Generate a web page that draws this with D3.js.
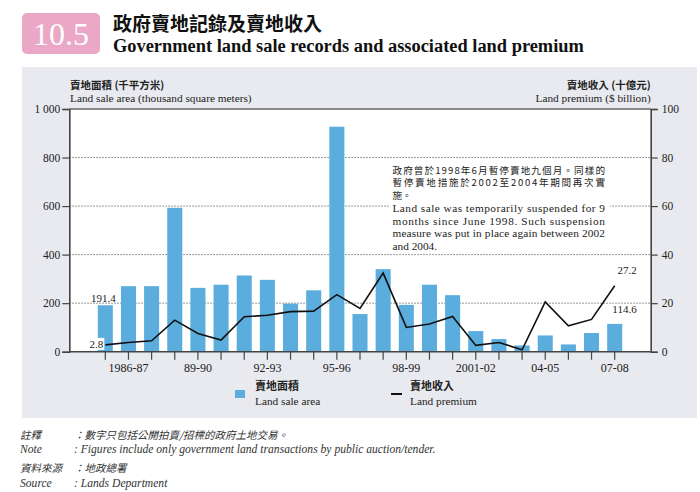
<!DOCTYPE html>
<html>
<head>
<meta charset="utf-8">
<script src="https://cdn.jsdelivr.net/npm/d3@7"></script>
<style>
  body { margin: 0; background: #fff; }
  svg { display: block; }
  .serif { font-family: "Liberation Serif", "DejaVu Serif", serif; }
  .cjk { font-family: "Noto Sans CJK TC", "Noto Sans CJK SC", sans-serif; }
</style>
</head>
<body>
<svg id="chart" width="700" height="492"></svg>
<script>
// categories (financial years)
let years = ['1985-86','1986-87','1987-88','1988-89','1989-90','1990-91','1991-92','1992-93',
  '1993-94','1994-95','1995-96','1996-97','1997-98','1998-99','1999-00','2000-01','2001-02',
  '2002-03','2003-04','2004-05','2005-06','2006-07','2007-08']
let tickLabels = ['','1986-87','','','89-90','','','92-93','','','95-96','','','98-99','','',
  '2001-02','','','04-05','','','07-08']

// land sale area (thousand sq m)
let saleArea = [191.4, 270, 270, 593, 263, 276, 314, 296, 198, 253, 927, 155, 340, 193, 276,
  233, 85, 52, 26, 67, 30, 77, 114.6]
// land premium ($ billion)
let premium = [2.8, 3.8, 4.5, 13.0, 7.5, 4.8, 14.4, 15.0, 16.5, 16.7, 23.5, 17.8, 32.4, 10.0,
  11.4, 14.5, 2.6, 3.8, 0.8, 20.5, 10.7, 13.3, 27.2]

let leftTicks = [0, 200, 400, 600, 800, 1000]
let rightTicks = [0, 20, 40, 60, 80, 100]

let noteZh = ['政府曾於1998年6月暫停賣地九個月。同樣的', '暫停賣地措施於2002至2004年期間再次實', '施。']
let noteEn = ['Land sale was temporarily suspended for 9', 'months since June 1998.  Such suspension',
  'measure was put in place again between 2002', 'and 2004.']

let svg = d3.select('#chart')

let pLeft = 69.3, pRight = 650.7, pTop = 109, pBottom = 351.7

let x = d3.scaleBand().domain(years).range([pLeft, pRight]).paddingInner(0.35).paddingOuter(1.23)
let yL = d3.scaleLinear().domain([0, 1000]).range([pBottom, pTop])
let yR = d3.scaleLinear().domain([0, 100]).range([pBottom, pTop])

// header
svg.append('rect').attr('x', 22).attr('y', 13).attr('width', 78).attr('height', 41)
  .attr('rx', 5).attr('fill', '#eaa8c6')
svg.append('text').attr('class', 'serif').attr('x', 61).attr('y', 45)
  .attr('text-anchor', 'middle').attr('font-size', 32).attr('fill', '#fff')
  .text('10.5')
svg.append('text').attr('class', 'cjk').attr('x', 113).attr('y', 31)
  .attr('font-size', 19).attr('font-weight', 'bold').attr('fill', '#111')
  .text('政府賣地記錄及賣地收入')
svg.append('text').attr('class', 'serif').attr('x', 113).attr('y', 52)
  .attr('font-size', 18.4).attr('font-weight', 'bold').attr('fill', '#111')
  .text('Government land sale records and associated land premium')

// panel
svg.append('rect').attr('x', 22).attr('y', 67).attr('width', 675).attr('height', 351)
  .attr('fill', '#e9eaef')
svg.append('rect').attr('x', pLeft).attr('y', pTop).attr('width', pRight - pLeft)
  .attr('height', pBottom - pTop).attr('fill', '#fff')

// axis titles
svg.append('text').attr('class', 'cjk').attr('x', 70).attr('y', 89)
  .attr('font-size', 10.5).attr('font-weight', 'bold').attr('fill', '#222').text('賣地面積 (千平方米)')
svg.append('text').attr('class', 'serif').attr('x', 70).attr('y', 102)
  .attr('font-size', 11.3).attr('fill', '#222').text('Land sale area (thousand square meters)')
svg.append('text').attr('class', 'cjk').attr('x', pRight).attr('y', 89).attr('text-anchor', 'end')
  .attr('font-size', 10.5).attr('font-weight', 'bold').attr('fill', '#222').text('賣地收入 (十億元)')
svg.append('text').attr('class', 'serif').attr('x', pRight).attr('y', 102).attr('text-anchor', 'end')
  .attr('font-size', 11.3).attr('fill', '#222').text('Land premium ($ billion)')

// gridlines
svg.append('g').selectAll('line')
  .data(leftTicks.filter(d => d > 0 && d < 1000))
  .enter().append('line')
  .attr('x1', pLeft).attr('x2', pRight)
  .attr('y1', d => yL(d)).attr('y2', d => yL(d))
  .attr('stroke', '#555').attr('stroke-width', 0.8).attr('stroke-dasharray', '1.5,1.5')
// top border
svg.append('line').attr('x1', pLeft).attr('x2', pRight).attr('y1', pTop).attr('y2', pTop)
  .attr('stroke', '#8a8a8a').attr('stroke-width', 2)

// bars
svg.append('g').selectAll('rect')
  .data(saleArea)
  .enter().append('rect')
  .attr('x', (d, i) => x(years[i]))
  .attr('width', x.bandwidth())
  .attr('y', d => yL(d))
  .attr('height', d => yL(0) - yL(d))
  .attr('fill', '#5badde')

// line
let line = d3.line()
  .x((d, i) => x(years[i]) + x.bandwidth() / 2)
  .y(d => yR(d))
svg.append('path').datum(premium).attr('d', line)
  .attr('fill', 'none').attr('stroke', '#111').attr('stroke-width', 1.6)
  .attr('stroke-linejoin', 'miter')

// axes
let fmtL = d => d === 1000 ? '1 000' : d
let axL = svg.append('g').attr('transform', `translate(${pLeft},0)`)
  .call(d3.axisLeft(yL).tickValues(leftTicks).tickSize(7).tickPadding(2).tickFormat(fmtL))
let axR = svg.append('g').attr('transform', `translate(${pRight},0)`)
  .call(d3.axisRight(yR).tickValues(rightTicks).tickSize(7).tickPadding(4))
let axB = svg.append('g').attr('transform', `translate(0,${pBottom})`)
  .call(d3.axisBottom(x).tickSize(8).tickPadding(4).tickFormat((d, i) => tickLabels[i]))
axB.select('.domain').attr('d', `M${pLeft},0H${pRight}`)
;[axL, axR, axB].forEach(a => {
  a.select('.domain').attr('stroke', '#444').attr('stroke-width', 1.6)
  a.selectAll('.tick line').attr('stroke', '#444').attr('stroke-width', 1.2)
  a.selectAll('.tick text').attr('class', 'serif').attr('font-size', 11.5).attr('fill', '#222')
})
axB.selectAll('.tick text').attr('font-size', 12)

// value labels
let first = 0, last = years.length - 1
let cx = i => x(years[i]) + x.bandwidth() / 2
svg.append('text').attr('class', 'serif').attr('x', cx(first) - 2).attr('y', yL(saleArea[first]) - 3)
  .attr('text-anchor', 'middle').attr('font-size', 11).attr('fill', '#222').text(saleArea[first])
svg.append('rect').attr('x', cx(first) - 16).attr('y', yR(premium[first]) - 7)
  .attr('width', 15).attr('height', 12).attr('fill', '#fff')
svg.append('text').attr('class', 'serif').attr('x', cx(first) - 2).attr('y', yR(premium[first]) + 3)
  .attr('text-anchor', 'end').attr('font-size', 11).attr('fill', '#222').text(premium[first])
svg.append('text').attr('class', 'serif').attr('x', cx(last) + 22).attr('y', yR(premium[last]) - 12)
  .attr('text-anchor', 'end').attr('font-size', 11).attr('fill', '#222').text(premium[last])
svg.append('text').attr('class', 'serif').attr('x', cx(last) + 22).attr('y', yL(saleArea[last]) - 11)
  .attr('text-anchor', 'end').attr('font-size', 11).attr('fill', '#222').text(saleArea[last])

// annotation
svg.append('rect').attr('x', 389).attr('y', 161).attr('width', 221).attr('height', 90).attr('fill', '#fff')
let nx = 392.5, nw = 212.5
noteZh.forEach((t, i) => {
  let el = svg.append('text').attr('class', 'cjk').attr('x', nx).attr('y', 173.5 + i * 12.5)
    .attr('font-size', 9.6).attr('fill', '#222').text(t)
  if (i < noteZh.length - 1) el.attr('textLength', nw).attr('lengthAdjust', 'spacing')
})
noteEn.forEach((t, i) => {
  let el = svg.append('text').attr('class', 'serif').attr('x', nx).attr('y', 212 + i * 12.5)
    .attr('font-size', 11.3).attr('fill', '#222').text(t)
  if (i < noteEn.length - 1) el.attr('textLength', nw).attr('lengthAdjust', 'spacing')
})

// legend
svg.append('rect').attr('x', 235).attr('y', 390).attr('width', 10).attr('height', 8).attr('fill', '#5badde')
svg.append('text').attr('class', 'cjk').attr('x', 255).attr('y', 390).attr('font-size', 11)
  .attr('font-weight', 'bold').attr('fill', '#222').text('賣地面積')
svg.append('text').attr('class', 'serif').attr('x', 255).attr('y', 405).attr('font-size', 11.3)
  .attr('fill', '#222').text('Land sale area')
svg.append('line').attr('x1', 391).attr('x2', 402).attr('y1', 394).attr('y2', 394)
  .attr('stroke', '#111').attr('stroke-width', 2)
svg.append('text').attr('class', 'cjk').attr('x', 410).attr('y', 390).attr('font-size', 11)
  .attr('font-weight', 'bold').attr('fill', '#222').text('賣地收入')
svg.append('text').attr('class', 'serif').attr('x', 410).attr('y', 405).attr('font-size', 11.3)
  .attr('fill', '#222').text('Land premium')

// footnotes
let foot = [
  ['註釋', '：數字只包括公開拍賣/招標的政府土地交易。', 439, true],
  ['Note', ': Figures include only government land transactions by public auction/tender.', 453, false],
  ['資料來源', '：地政總署', 472, true],
  ['Source', ': Lands Department', 487, false]
]
foot.forEach(f => {
  svg.append('text').attr('class', f[3] ? 'cjk' : 'serif').attr('x', 20).attr('y', f[2])
    .attr('font-size', f[3] ? 10.5 : 11.6).attr('font-style', 'italic').attr('fill', '#333').text(f[0])
  svg.append('text').attr('class', f[3] ? 'cjk' : 'serif').attr('x', 74).attr('y', f[2])
    .attr('font-size', f[3] ? 10.5 : 11.6).attr('font-style', 'italic').attr('fill', '#333').text(f[1])
})
</script>
</body>
</html>
